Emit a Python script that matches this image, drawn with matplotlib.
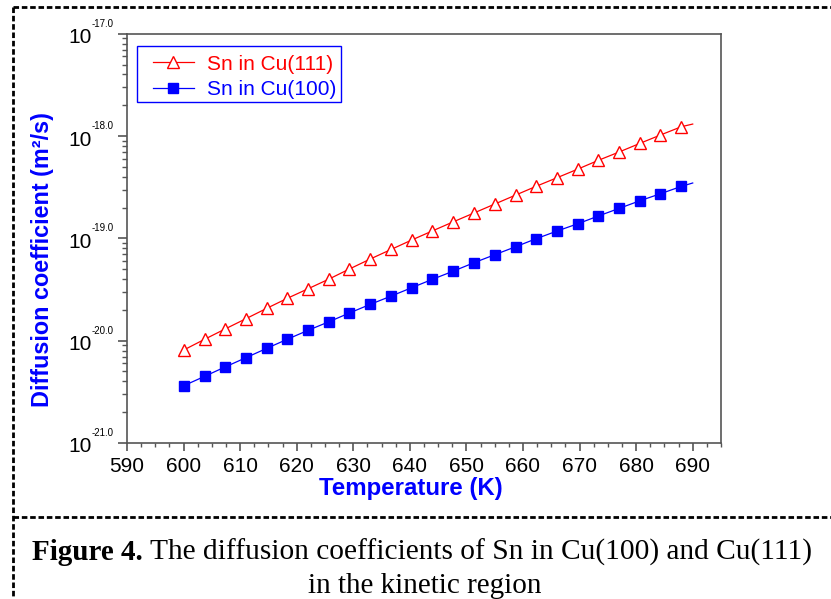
import numpy as np
import matplotlib
matplotlib.use("Agg")
import matplotlib.pyplot as plt
from matplotlib.lines import Line2D
from matplotlib.patches import Rectangle
from matplotlib.ticker import MultipleLocator, LogLocator, NullFormatter

plt.rcParams['font.family'] = ['Liberation Sans', 'DejaVu Sans']

# temperatures (K); the last point only carries the line, no marker
temp = [600.0, 603.7, 607.3, 611.0, 614.7, 618.3, 622.0, 625.7, 629.3, 633.0,
        636.7, 640.3, 644.0, 647.7, 651.3, 655.0, 658.7, 662.3, 666.0, 669.7,
        673.3, 677.0, 680.7, 684.3, 688.0, 690.0]

# log10 of diffusion coefficient (m^2/s)
log_d111 = [-20.092, -19.987, -19.887, -19.786, -19.684, -19.587, -19.493, -19.398,
            -19.300, -19.202, -19.108, -19.017, -18.927, -18.838, -18.753, -18.665,
            -18.577, -18.492, -18.408, -18.323, -18.238, -18.156, -18.071, -17.990,
            -17.909, -17.883]
log_d100 = [-20.441, -20.349, -20.258, -20.167, -20.075, -19.987, -19.899, -19.815,
            -19.730, -19.645, -19.564, -19.483, -19.400, -19.320, -19.239, -19.160,
            -19.082, -19.004, -18.929, -18.857, -18.782, -18.707, -18.632, -18.564,
            -18.492, -18.459]

labels = ["Sn in Cu(111)", "Sn in Cu(100)"]
decades = [-21, -20, -19, -18, -17]

fig = plt.figure(figsize=(8.31, 5.99), dpi=100)
ax = fig.add_axes([127/831, 1-443/599, 594/831, 409.3/599])

d111 = 10.0 ** np.array(log_d111)
d100 = 10.0 ** np.array(log_d100)
mk = list(range(len(temp) - 1))

ax.plot(temp, d111, color='red', lw=0.9, marker='^', markersize=8,
        markerfacecolor='white', markeredgecolor='red', markeredgewidth=1.0,
        markevery=mk, label=labels[0])
ax.plot(temp, d100, color='blue', lw=0.9, marker='s', markersize=6.5,
        markerfacecolor='blue', markeredgecolor='blue',
        markevery=mk, label=labels[1])

ax.set_yscale('log')
ax.set_ylim(1e-21, 1e-17)
ax.set_xlim(590, 695)
ax.set_xticks(np.arange(590, 691, 10))
ax.xaxis.set_minor_locator(MultipleLocator(2.5))
ax.yaxis.set_major_locator(LogLocator(base=10, numticks=10))
ax.yaxis.set_minor_locator(LogLocator(base=10, subs=np.arange(2, 10), numticks=20))
ax.yaxis.set_major_formatter(NullFormatter())
ax.yaxis.set_minor_formatter(NullFormatter())

for s in ax.spines.values():
    s.set_color('#555555')
    s.set_linewidth(1.2)
ax.tick_params(axis='x', which='major', direction='out', length=6, width=1.2,
               color='#555555', labelsize=15, pad=4, top=False)
ax.tick_params(axis='x', which='minor', direction='out', length=3, width=1.0,
               color='#555555', top=False)
ax.tick_params(axis='y', which='major', direction='out', length=6.5, width=1.2,
               color='#555555', right=False)
ax.tick_params(axis='y', which='minor', direction='out', length=3.5, width=1.0,
               color='#555555', right=False)

# y tick labels: "10" with a small superscript exponent
for e in decades:
    ax.annotate("10", xy=(0, 10.0 ** e), xycoords=ax.get_yaxis_transform(),
                xytext=(-35, -4), textcoords='offset pixels',
                ha='right', va='center', fontsize=15)
    ax.annotate("%.1f" % e, xy=(0, 10.0 ** e), xycoords=ax.get_yaxis_transform(),
                xytext=(-35, 5), textcoords='offset pixels',
                ha='left', va='bottom', fontsize=7)

fig.text(411/831, 1-489/599, "Temperature (K)", color='blue', fontsize=17.3,
         fontweight='bold', ha='center', va='center')
fig.text(43/831, 1-260/599, "Diffusion coefficient (m²/s)", color='blue',
         fontsize=16.8, fontweight='bold', rotation=90, ha='center', va='center')

# legend: entries without frame, blue box drawn separately
leg = ax.legend(loc='upper left', bbox_to_anchor=(0.0438, 0.9487), borderaxespad=0,
                fontsize=15, frameon=False, handlelength=1.95, handletextpad=0.65,
                borderpad=0, labelspacing=0.3)
for t, c in zip(leg.get_texts(), ['red', 'blue']):
    t.set_color(c)
ax.add_patch(Rectangle((0.01684, 0.8339), 0.3434, 0.1368, transform=ax.transAxes,
                       fill=False, edgecolor='blue', lw=1.0, zorder=5))

# dashed page frame
dash = dict(color='black', lw=2.0, linestyle=(0, (2, 1)))
fig.add_artist(Line2D([13/831, 1.0], [1-7.3/599, 1-7.3/599], **dash))
fig.add_artist(Line2D([13.3/831, 13.3/831], [1-7.3/599, 0.0], **dash))
fig.add_artist(Line2D([13/831, 1.0], [1-517.3/599, 1-517.3/599], **dash))

# caption
cap_font = ['Liberation Serif', 'DejaVu Serif']
t1 = fig.text(31.7/831, 1-560/599, "Figure 4.", family=cap_font, fontweight='bold',
              fontsize=21, ha='left', va='baseline')
fig.canvas.draw()
bb = t1.get_window_extent()
fig.text((bb.x1 + 8)/831, 1-560/599,
         "The diffusion coefficients of Sn in Cu(100) and Cu(111)",
         family=cap_font, fontsize=21.2, ha='left', va='baseline')
fig.text(425/831, 1-593/599, "in the kinetic region", family=cap_font,
         fontsize=21, ha='center', va='baseline')

fig.savefig("out.png", dpi=100)
